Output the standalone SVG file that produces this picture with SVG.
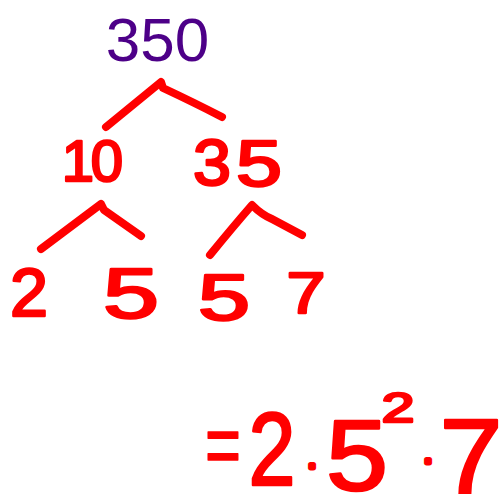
<svg xmlns="http://www.w3.org/2000/svg" width="503" height="494" viewBox="0 0 503 494">
<style>
.ink{fill:#ff0000;stroke:#ff0000;stroke-width:2.5;stroke-linejoin:round;font-family:"Liberation Sans",Arial,sans-serif;text-anchor:middle}
.dot{stroke-width:5}
.br{fill:none;stroke:#ff0000;stroke-width:8;stroke-linecap:round;stroke-linejoin:round}
</style>
<rect width="503" height="494" fill="#ffffff"/>
<g id="connectors">
<path class="br" d="M106,127 L161,82 L163,88 Q195,103 222,117"/>
<path class="br" d="M41,249 L101,204 L104,210 L141,236"/>
<path class="br" d="M210,255 Q232,228 252,205 Q262,215 272,219 L302,235"/>
</g>
<g id="n350"><text x="157.5" y="61" font-family="'Liberation Sans',Arial,sans-serif" font-size="62" fill="#4d0088" text-anchor="middle">350</text></g>
<g id="n10"><text class="ink" y="181" font-size="58"><tspan x="78">1</tspan><tspan x="107">0</tspan></text></g>
<g id="n35"><text class="ink" x="212" y="185" font-size="64" textLength="38" lengthAdjust="spacingAndGlyphs">3</text><text class="ink" x="259" y="186" font-size="64" textLength="46" lengthAdjust="spacingAndGlyphs">5</text></g>
<g id="n2"><text class="ink" x="29" y="316" font-size="68" textLength="38" lengthAdjust="spacingAndGlyphs">2</text></g>
<g id="n5a"><text class="ink" x="131" y="318" font-size="70" textLength="56" lengthAdjust="spacingAndGlyphs">5</text></g>
<g id="n5b"><text class="ink" x="224" y="320" font-size="64" textLength="52" lengthAdjust="spacingAndGlyphs">5</text></g>
<g id="n7"><text class="ink" x="306" y="313" font-size="58" textLength="39" lengthAdjust="spacingAndGlyphs">7</text></g>
<g id="result">
<text class="ink" style="stroke-width:1.5" x="223" y="475" font-size="88" textLength="36" lengthAdjust="spacingAndGlyphs">=</text>
<text class="ink" x="272" y="485" font-size="104" textLength="47" lengthAdjust="spacingAndGlyphs">2</text>
<text class="ink dot" x="312" y="475" font-size="32">·</text>
<text class="ink" x="357" y="490" font-size="100" textLength="62" lengthAdjust="spacingAndGlyphs">5</text>
<text class="ink" x="398" y="422" font-size="42" textLength="33" lengthAdjust="spacingAndGlyphs">2</text>
<text class="ink dot" x="428" y="470" font-size="32">·</text>
<text class="ink" x="471" y="494" font-size="107" textLength="63" lengthAdjust="spacingAndGlyphs">7</text>
</g>
</svg>
